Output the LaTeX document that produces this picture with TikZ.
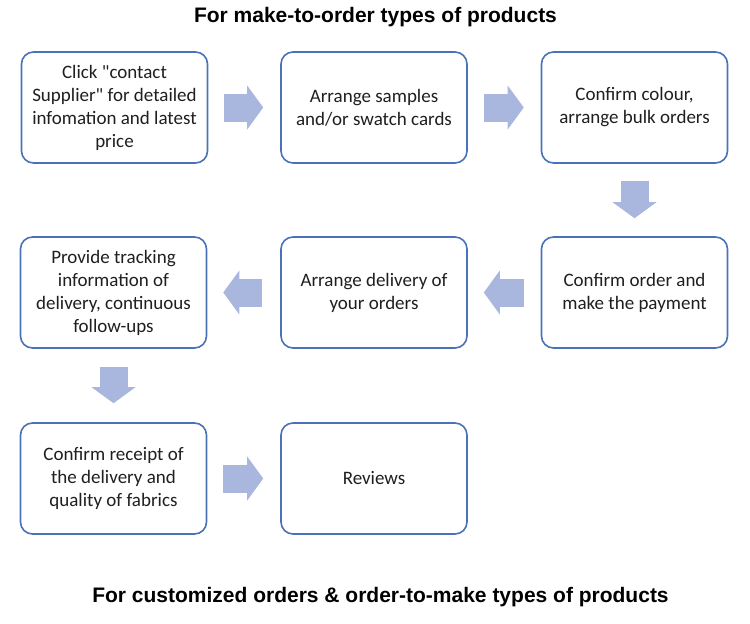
\documentclass[tikz,border=0pt]{standalone}
\usepackage{fontspec}
\setmainfont{Carlito}
\newfontfamily\headfont{Liberation Sans}
\usetikzlibrary{arrows.meta,positioning}
\definecolor{boxline}{HTML}{4A72B8}
\definecolor{flowfill}{HTML}{A9B7DE}

\begin{document}
\begin{tikzpicture}[
  x=1pt, y=1pt,
  stepbox/.style={draw=boxline, line width=1.6pt, rounded corners=12pt, fill=white,
    minimum width=186pt, minimum height=111pt, inner sep=0pt, align=center,
    text=black!88, font=\fontsize{19}{23}\selectfont},
  flow/.style={draw=flowfill, line width=28pt,
    -{Triangle[length=16pt 0 0, width=44pt 0 0, line width=0pt 0 0, fill=flowfill]}},
  head/.style={font=\headfont\bfseries\fontsize{21}{24}\selectfont}]
  \useasboundingbox (0,0) rectangle (750,-624);
  % titles
  \node[head] (top) at (375.5,-17) {For make-to-order types of products};
  \node[head] (bottom) at (380.5,-597) {For customized orders \& order-to-make types of products};
  % first row
  \node[stepbox] (click)   at (114.5,-107.5) {Click \textquotedbl contact\\Supplier\textquotedbl{} for detailed\\infomation and latest\\price};
  \node[stepbox] (samples) at (374,-107.5) {Arrange samples\\and/or swatch cards};
  \node[stepbox] (colour)  at (634.5,-107.5) {Confirm colour,\\arrange bulk orders};
  % second row
  \node[stepbox] (payment)  at (634.5,-292.5) {Confirm order and\\make the payment};
  \node[stepbox] (delivery) at (374,-292.5) {Arrange delivery of\\your orders};
  \node[stepbox] (tracking) at (113.5,-292.5) {Provide tracking\\information of\\delivery, continuous\\follow-ups};
  % third row
  \node[stepbox] (receipt) at (113.5,-478.5) {Confirm receipt of\\the delivery and\\quality of fabrics};
  \node[stepbox] (reviews) at (374,-478.5) {Reviews};
  % block arrows
  \draw[flow] ([xshift=16]click.east) -- ([xshift=-17]samples.west);
  \draw[flow] ([xshift=16]samples.east) -- ([xshift=-17]colour.west);
  \draw[flow] ([yshift=-17]colour.south) -- ([yshift=18]payment.north);
  \draw[flow] ([xshift=-17]payment.west) -- ([xshift=16]delivery.east);
  \draw[flow] ([xshift=-18]delivery.west) -- ([xshift=16]tracking.east);
  \draw[flow] ([yshift=-18]tracking.south) -- ([yshift=19]receipt.north);
  \draw[flow] ([xshift=16]receipt.east) -- ([xshift=-17]reviews.west);
\end{tikzpicture}
\end{document}
